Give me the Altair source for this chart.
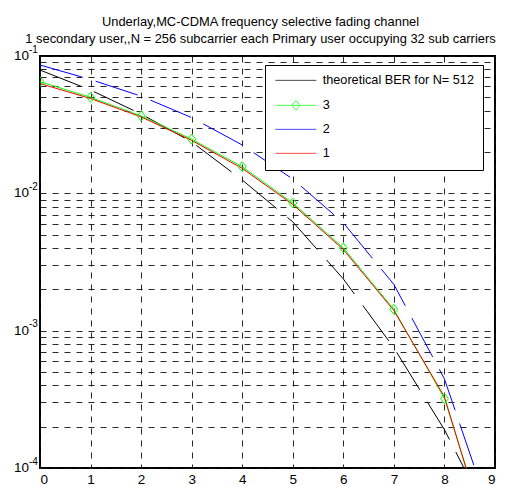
import altair as alt
import pandas as pd

# SNR axis (integer steps)
snr = [0, 1, 2, 3, 4, 5, 6, 7, 8, 9]

# BER curves
ber_theory = [0.079, 0.0565, 0.0378, 0.0237, 0.0125, 0.0062, 0.00238, 7.5e-4, 1.9e-4, 3.6e-5]
ber_3 = [0.065, 0.050, 0.0366, 0.0248, 0.0156, 0.0085, 0.0040, 0.00143, 3.2e-4, 2.2e-5]
ber_2 = [0.086, 0.0674, 0.051, 0.0356, 0.0225, 0.0127, 0.0061, 0.00217, 4.45e-4, 3.7e-5]
ber_1 = [0.063, 0.049, 0.036, 0.0243, 0.0152, 0.0083, 0.0039, 0.00140, 3.3e-4, 2.0e-5]

series_names = ["theoretical BER for N= 512", "3", "2", "1"]
series_colors = ["#000000", "#00ff00", "#0000ff", "#ff0000"]
series_dash = [[44, 14], [], [44, 14], []]

# log-axis labels
decades = [1e-4, 1e-3, 1e-2, 1e-1]
exponents = ["-4", "-3", "-2", "-1"]
grid_values = [m * 10.0 ** e for e in (-4, -3, -2) for m in range(1, 10)] + [0.1]

FONT = "Liberation Sans"
TICK_FS = 13.5
TITLE_FS = 12.9
LEGEND_FS = 12.7

rows = []
for name, vals in zip(series_names, [ber_theory, ber_3, ber_2, ber_1]):
    for x, v in zip(snr, vals):
        rows.append({"snr": x, "ber": v, "series": name})
df = pd.DataFrame(rows)
dec_df = pd.DataFrame({"ber": decades, "base": ["10"] * 4, "exp": exponents})

x_enc = alt.X(
    "snr:Q",
    scale=alt.Scale(domain=[0, 9], nice=False, zero=False),
    axis=alt.Axis(values=snr, grid=True, ticks=False, domain=False, title=None,
                  labelFontSize=TICK_FS, labelFont=FONT, labelColor="black",
                  labelPadding=4, format="d"),
)
y_enc = alt.Y(
    "ber:Q",
    scale=alt.Scale(type="log", domain=[1e-4, 0.1], nice=False),
    axis=alt.Axis(values=grid_values, grid=True, ticks=False, domain=False,
                  labels=False, title=None),
)

diamond = "M0,-1L0.8,0L0,1L-0.8,0Z"
# key glyphs: a 41px stroke, the second one with a diamond in its middle
legend_line = "M-1,0H7.2"
legend_diamond = legend_line + "M3.1,-1L3.9,0L3.1,1L2.3,0Z"
legend_shapes = [legend_diamond if n == "3" else legend_line for n in series_names]

legend = alt.Legend(
    title=None,
    orient="none",
    legendX=225,
    legendY=9,
    fillColor="white",
    strokeColor="black",
    padding=9,
    rowPadding=10,
    labelFontSize=LEGEND_FS,
    labelFont=FONT,
    labelColor="black",
    labelOffset=36,
    symbolSize=100,
    symbolStrokeWidth=1,
)

# Key: an empty point layer carrying colour + shape scales for the legend
key = (
    alt.Chart(df)
    .transform_filter("false")
    .mark_point(filled=False, size=100, strokeWidth=1)
    .encode(
        x=x_enc,
        y=y_enc,
        color=alt.Color("series:N", scale=alt.Scale(domain=series_names, range=series_colors),
                        sort=series_names, legend=legend),
        shape=alt.Shape("series:N", scale=alt.Scale(domain=series_names, range=legend_shapes),
                        sort=series_names, legend=legend),
    )
)

layers = []
for name, colour, dash in zip(series_names, series_colors, series_dash):
    mk = dict(clip=True, strokeWidth=1, color=colour)
    if dash:
        mk["strokeDash"] = dash
    layers.append(
        alt.Chart(df)
        .transform_filter(alt.datum.series == name)
        .mark_line(**mk)
        .encode(x=x_enc, y=y_enc)
    )

markers = (
    alt.Chart(df)
    .transform_filter(alt.datum.series == "3")
    .mark_point(shape=diamond, size=100, filled=False, color="#00ff00",
                strokeWidth=1, clip=True, opacity=1)
    .encode(x=x_enc, y=y_enc)
)

base_labels = (
    alt.Chart(dec_df)
    .mark_text(align="right", baseline="middle", fontSize=TICK_FS, font=FONT,
               color="black", dy=0)
    .encode(x=alt.value(-11), y=y_enc, text="base:N")
)
exp_labels = (
    alt.Chart(dec_df)
    .mark_text(align="left", baseline="alphabetic", fontSize=10, font=FONT,
               color="black", dy=-3.5)
    .encode(x=alt.value(-11), y=y_enc, text="exp:N")
)

chart = (
    alt.layer(key, *layers, markers, base_labels, exp_labels)
    .properties(
        width=455,
        height=412,
        autosize=alt.AutoSizeParams(type="none"),
        padding={"left": 40, "top": 56, "right": 25, "bottom": 18},
        background="white",
        title=alt.TitleParams(
            text=[
                "Underlay,MC-CDMA frequency selective fading channel",
                "1 secondary user,,N = 256 subcarrier each Primary user occupying 32 sub carriers",
            ],
            fontSize=TITLE_FS,
            font=FONT,
            fontWeight="normal",
            color="black",
            anchor="middle",
            lineHeight=17,
            offset=-1,
            dx=-7,
        ),
    )
    .configure_view(stroke="black", strokeWidth=2)
    .configure_axis(gridColor="#111111", gridDash=[6, 6], gridWidth=0.9, gridOpacity=1)
)

chart.save("out.html", embed_options={"renderer": "svg", "actions": False})
